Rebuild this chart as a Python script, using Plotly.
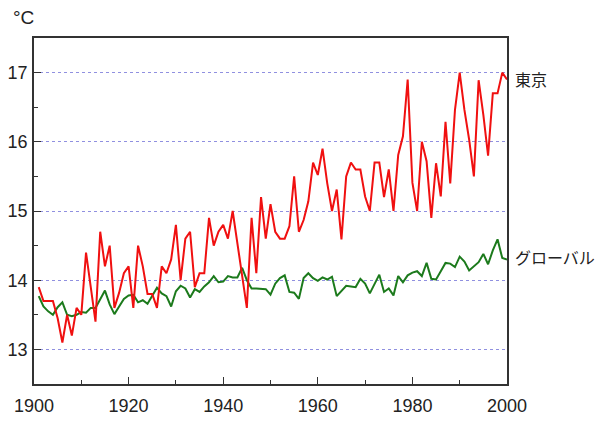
import plotly.graph_objects as go

years = list(range(1901, 2001))

tokyo = [
    13.9, 13.7, 13.7, 13.7, 13.45, 13.1, 13.5, 13.2, 13.6, 13.5,
    14.4, 13.9, 13.4, 14.7, 14.2, 14.5, 13.6, 13.82, 14.1, 14.2,
    13.6, 14.5, 14.2, 13.8, 13.8, 13.6, 14.2, 14.1, 14.3, 14.8,
    14.0, 14.6, 14.7, 13.9, 14.1, 14.1, 14.9, 14.5, 14.7, 14.8,
    14.6, 15.0, 14.55, 14.1, 13.6, 14.9, 14.1, 15.2, 14.6, 15.1,
    14.7, 14.6, 14.6, 14.78, 15.5, 14.7, 14.87, 15.14, 15.7, 15.52,
    15.9, 15.4, 15.0, 15.31, 14.59, 15.5, 15.7, 15.6, 15.6, 15.21,
    15.0, 15.7, 15.7, 15.2, 15.6, 15.0, 15.81, 16.08, 16.9, 15.41,
    15.0, 16.0, 15.72, 14.9, 15.69, 15.21, 16.29, 15.4, 16.46, 17.0,
    16.46, 16.03, 15.5, 16.89, 16.39, 15.8, 16.7, 16.7, 17.0, 16.9,
]

global_t = [
    13.77, 13.62, 13.55, 13.5, 13.61, 13.68, 13.5, 13.48, 13.5, 13.54,
    13.53, 13.6, 13.6, 13.73, 13.85, 13.65, 13.51, 13.62, 13.73, 13.78,
    13.79, 13.68, 13.71, 13.66, 13.77, 13.89, 13.81, 13.77, 13.62, 13.84,
    13.92, 13.88, 13.75, 13.87, 13.83, 13.91, 13.97, 14.06, 13.97, 13.98,
    14.06, 14.04, 14.04, 14.18, 14.0, 13.88, 13.88, 13.88, 13.87, 13.79,
    13.95, 14.03, 14.07, 13.83, 13.82, 13.73, 14.03, 14.1, 14.03, 13.99,
    14.04, 14.01, 14.05, 13.77, 13.84, 13.92, 13.91, 13.9, 14.02, 13.95,
    13.81, 13.95, 14.08, 13.83, 13.88, 13.78, 14.06, 13.97, 14.07, 14.11,
    14.13, 14.06, 14.25, 14.02, 14.01, 14.13, 14.25, 14.24, 14.19, 14.34,
    14.27, 14.14, 14.2, 14.26, 14.38, 14.23, 14.43, 14.59, 14.32, 14.3,
]

series_names = ["東京", "グローバル"]
x_ticks = [1900, 1920, 1940, 1960, 1980, 2000]
y_ticks = [13, 14, 15, 16, 17]

fig = go.Figure()
fig.add_trace(go.Scatter(x=years, y=global_t, mode="lines", name=series_names[1],
                         line=dict(color="#1c7a1c", width=2), showlegend=False))
fig.add_trace(go.Scatter(x=years, y=tokyo, mode="lines", name=series_names[0],
                         line=dict(color="#f01010", width=2), showlegend=False))

label_font = dict(family="Noto Sans CJK JP", size=16, color="#222")
fig.add_annotation(x=years[-1], y=tokyo[-1], xref="x", yref="y", text=series_names[0],
                   showarrow=False, xanchor="left", xshift=6, yshift=1, font=label_font)
fig.add_annotation(x=years[-1], y=global_t[-1], xref="x", yref="y", text=series_names[1],
                   showarrow=False, xanchor="left", xshift=6, yshift=2, font=label_font)
fig.add_annotation(x=-0.048, y=1.06, xref="paper", yref="paper", text="°C",
                   showarrow=False, xanchor="left", yanchor="middle",
                   font=dict(family="Liberation Sans", size=19, color="#222"))

tick_font = dict(family="Liberation Sans", size=18, color="#222")

fig.update_layout(
    width=614, height=434,
    margin=dict(l=34, r=107, t=38, b=50),
    paper_bgcolor="white", plot_bgcolor="white",
    font=dict(family="Liberation Sans", size=16, color="#222"),
    xaxis=dict(range=[1900, 2000], tickvals=x_ticks, ticks="inside", ticklen=7,
               tickcolor="#333", showline=True, linecolor="#333", linewidth=1.5,
               mirror=True, showgrid=False, zeroline=False, automargin=False,
               minor=dict(ticks="inside", dtick=10, tick0=1900, ticklen=4, tickcolor="#333"),
               tickfont=tick_font, ticklabelstandoff=5),
    yaxis=dict(range=[12.5, 17.5], tickvals=y_ticks, ticks="inside", ticklen=7,
               tickcolor="#333", showline=True, linecolor="#333", linewidth=1.5,
               mirror=True, showgrid=True, gridcolor="#9090e0", griddash="dot",
               gridwidth=1, zeroline=False, automargin=False,
               minor=dict(ticks="inside", dtick=0.5, tick0=12.5, ticklen=4, tickcolor="#333",
                          showgrid=False),
               tickfont=tick_font, ticklabelstandoff=1),
)

fig.write_html("out.html")
